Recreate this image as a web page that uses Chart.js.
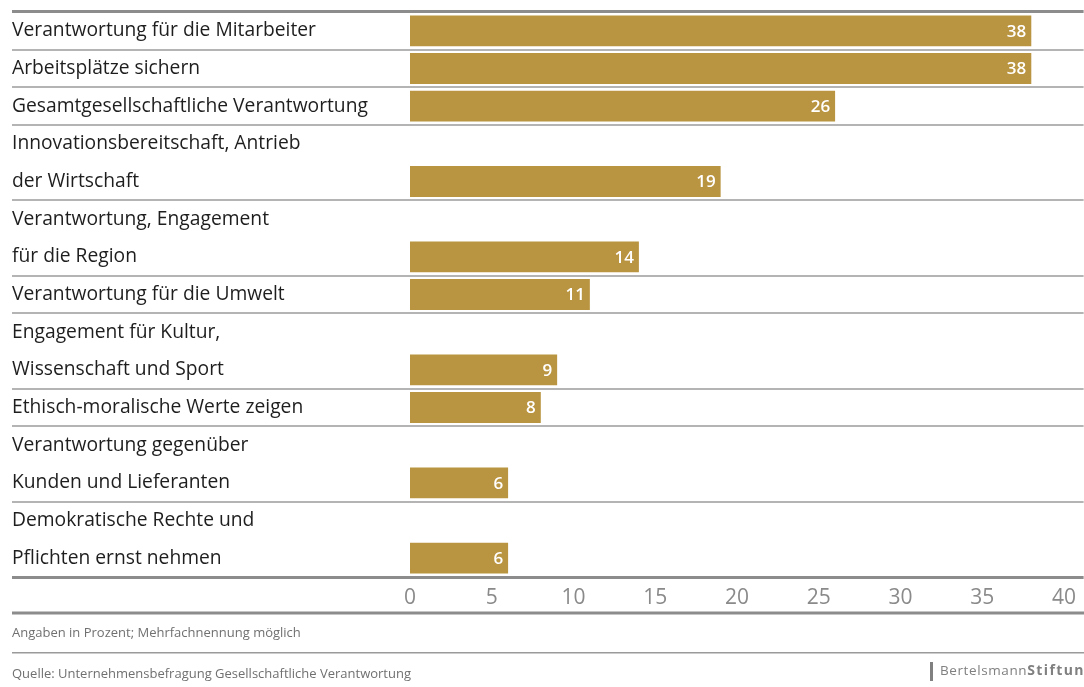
<!DOCTYPE html>
<html lang="de">
<head>
<meta charset="utf-8">
<title>Gesellschaftliche Verantwortung</title>
<script src="https://cdn.jsdelivr.net/npm/chart.js@4.4.1/dist/chart.umd.min.js"></script>
<style>
  html, body { margin: 0; padding: 0; background: #fff; }
  canvas { display: block; }
</style>
</head>
<body>
<canvas id="chart" width="1084" height="687"></canvas>
<script>
// one entry per answer, split into the lines it is printed on
const categories = [
  ['Verantwortung für die Mitarbeiter'],
  ['Arbeitsplätze sichern'],
  ['Gesamtgesellschaftliche Verantwortung'],
  ['Innovationsbereitschaft, Antrieb', 'der Wirtschaft'],
  ['Verantwortung, Engagement', 'für die Region'],
  ['Verantwortung für die Umwelt'],
  ['Engagement für Kultur,', 'Wissenschaft und Sport'],
  ['Ethisch-moralische Werte zeigen'],
  ['Verantwortung gegenüber', 'Kunden und Lieferanten'],
  ['Demokratische Rechte und', 'Pflichten ernst nehmen']
];
const values = [38, 38, 26, 19, 14, 11, 9, 8, 6, 6];
const xTicks = [0, 5, 10, 15, 20, 25, 30, 35, 40];
const note = 'Angaben in Prozent; Mehrfachnennung möglich';
const source = 'Quelle: Unternehmensbefragung Gesellschaftliche Verantwortung';

const FONT = '"Open Sans", "Liberation Sans", sans-serif';
const GOLD = '#ba9541';
const LINE_DARK = '#8c8c8c';
const LINE_LIGHT = '#b4b4b4';

// every printed line gets its own slot on the y axis, the bar sits on the last one
const slotLabels = [];
const slotValues = [];
const rowStarts = [];
categories.forEach((lines, i) => {
  rowStarts.push(slotLabels.length);
  lines.forEach((line, j) => {
    slotLabels.push(line);
    slotValues.push(j === lines.length - 1 ? values[i] : null);
  });
});

// separators only between answers, thick rules at top and bottom
function gridColor(ctx) {
  if (ctx.index === undefined || ctx.index === 0) return LINE_DARK;
  return rowStarts.includes(ctx.index) ? LINE_LIGHT : 'rgba(0,0,0,0)';
}
function gridWidth(ctx) {
  return (ctx.index === undefined || ctx.index === 0) ? 3 : 2;
}

const valueLabels = {
  id: 'valueLabels',
  afterDatasetsDraw(chart) {
    const c = chart.ctx;
    const meta = chart.getDatasetMeta(0);
    c.save();
    c.font = '600 17px ' + FONT;
    c.fillStyle = '#fff';
    c.textAlign = 'right';
    c.textBaseline = 'middle';
    meta.data.forEach((bar, i) => {
      const v = slotValues[i];
      if (v == null) return;
      c.fillText(String(v), bar.x - 5, bar.y + 1);
    });
    c.restore();
  }
};

const footer = {
  id: 'footer',
  afterDraw(chart) {
    const c = chart.ctx;
    const w = chart.width;
    const xAxis = chart.scales.x;
    c.save();
    // rule under the tick labels
    c.fillStyle = LINE_DARK;
    c.fillRect(12, xAxis.bottom - 1.5, w - 12, 3);
    c.fillStyle = '#9a9a9a';
    c.fillRect(12, 652, w - 12, 1.5);

    c.font = '13px ' + FONT;
    c.fillStyle = '#707070';
    c.textBaseline = 'middle';
    c.fillText(note, 12, 633);
    c.fillText(source, 12, 674);

    // logo, runs off the right edge
    c.fillStyle = '#808080';
    c.fillRect(930, 662, 3, 19);
    c.letterSpacing = '0.6px';
    c.font = '13.5px ' + FONT;
    c.fillText('Bertelsmann', 940, 671);
    const bw = c.measureText('Bertelsmann').width;
    c.letterSpacing = '1.4px';
    c.font = 'bold 14px ' + FONT;
    c.fillText('Stiftung', 940 + bw, 671);
    c.restore();
  }
};

new Chart(document.getElementById('chart'), {
  type: 'bar',
  data: {
    labels: slotLabels,
    datasets: [{
      data: slotValues,
      backgroundColor: GOLD,
      barPercentage: 0.82,
      categoryPercentage: 1
    }]
  },
  options: {
    indexAxis: 'y',
    responsive: false,
    animation: false,
    layout: { padding: { left: 12, top: 12, right: 0, bottom: 74 } },
    plugins: {
      legend: { display: false },
      tooltip: { enabled: false }
    },
    scales: {
      y: {
        grid: { color: gridColor, lineWidth: gridWidth, tickLength: 398, offset: true },
        border: { display: false },
        ticks: {
          autoSkip: false,
          crossAlign: 'far',
          padding: 0,
          color: '#1e1e1e',
          font: { family: FONT, size: 19.25 }
        },
        afterFit(scale) { scale.width = 398; }
      },
      x: {
        min: 0,
        max: 41.2,
        grid: { display: false, drawTicks: false },
        border: { display: false },
        ticks: {
          padding: 8,
          color: '#8a8a8a',
          font: { family: FONT, size: 21 }
        },
        afterBuildTicks(scale) { scale.ticks = xTicks.map(v => ({ value: v })); },
        afterFit(scale) { scale.height = 36; }
      }
    }
  },
  plugins: [valueLabels, footer]
});
</script>
</body>
</html>
